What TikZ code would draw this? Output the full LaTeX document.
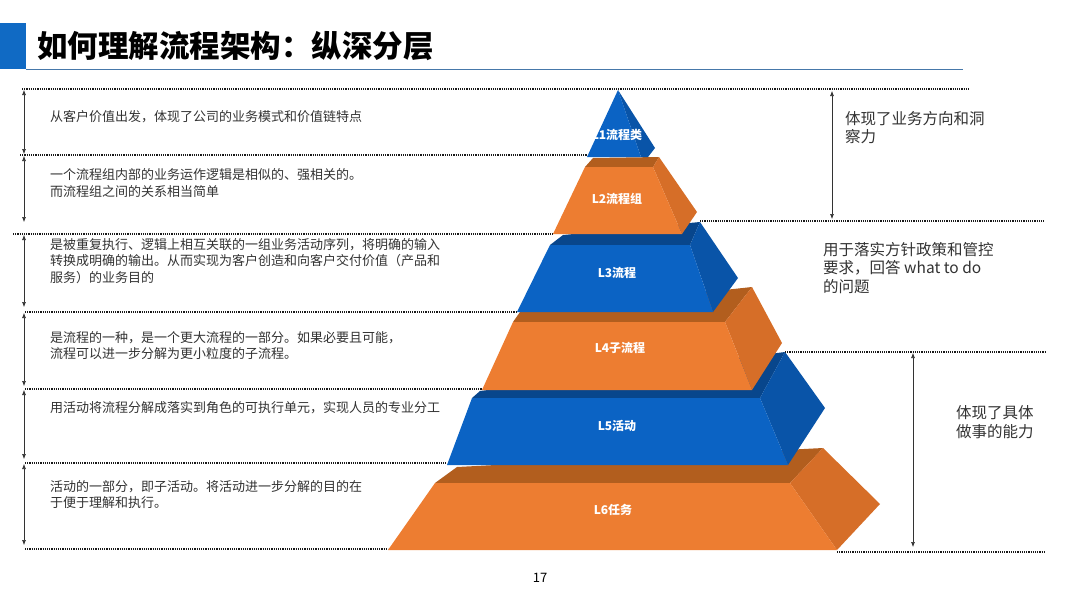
\documentclass[tikz,border=0pt]{standalone}
\usepackage{fontspec}
\setmainfont{Noto Sans CJK SC}
\usetikzlibrary{positioning, arrows.meta}
\definecolor{pyblue}{RGB}{11,99,196}
\definecolor{pybluedk}{RGB}{9,84,168}
\definecolor{pybluetop}{RGB}{8,70,140}
\definecolor{pyorange}{RGB}{237,125,49}
\definecolor{pyorangedk}{RGB}{214,110,40}
\definecolor{pyorangetop}{RGB}{178,94,30}
\definecolor{barblue}{RGB}{16,106,196}
\definecolor{ruleblue}{RGB}{70,120,170}
\definecolor{txtgray}{RGB}{50,50,50}

\begin{document}
\begin{tikzpicture}[x=1pt,y=-1pt,
    guide/.style={line width=1.1pt, dash pattern=on 1.1pt off 1.1pt, black!90},
    dimarrow/.style={{Latex[length=5pt,width=4pt]}-{Latex[length=5pt,width=4pt]}, line width=0.6pt, black!80}]
  \useasboundingbox (0,0) rectangle (1080,608);
  % title bar
  \fill[barblue] (0,23) rectangle (26,69);
  \draw[ruleblue, line width=1.5pt] (26,69.5) -- (963,69.5);
  \node (title) [anchor=west, inner sep=0, font=\bfseries\fontsize{30.5}{30.5}\selectfont] at (37,46) {如何理解流程架构：纵深分层};
  \node (page) [inner sep=0, font=\fontsize{13}{13}\selectfont] at (540,578) {17};

  % pyramid, bottom layer first
  \fill[pyorangetop] (435,483) -- (457,467) -- (823,448) -- (790,483) -- cycle;
  \fill[pyorangedk] (790,483) -- (823,448) -- (880,504) -- (837,550) -- cycle;
  \fill[pyorange] (435,483) -- (790,483) -- (837,550) -- (388,550) -- cycle;
  \fill[pybluetop] (472,398) -- (480,391) -- (785,352) -- (760,398) -- cycle;
  \fill[pybluedk] (760,398) -- (785,352) -- (825,408) -- (788,465) -- cycle;
  \fill[pyblue] (472,398) -- (760,398) -- (788,465) -- (447,465) -- cycle;
  \fill[pyorangetop] (513,322) -- (520,312) -- (752,287) -- (725,322) -- cycle;
  \fill[pyorangedk] (725,322) -- (752,287) -- (782,343) -- (752,390) -- cycle;
  \fill[pyorange] (513,322) -- (725,322) -- (752,390) -- (482,390) -- cycle;
  \fill[pybluetop] (550,245) -- (563,235) -- (700,222) -- (690,245) -- cycle;
  \fill[pybluedk] (690,245) -- (700,222) -- (738,278) -- (713,312) -- cycle;
  \fill[pyblue] (550,245) -- (690,245) -- (713,312) -- (517,312) -- cycle;
  \fill[pyorangetop] (585,167) -- (593,158) -- (659,157) -- (653,167) -- cycle;
  \fill[pyorangedk] (653,167) -- (659,157) -- (697,212) -- (682,234) -- cycle;
  \fill[pyorange] (585,167) -- (653,167) -- (682,234) -- (553,234) -- cycle;
  \fill[pybluedk] (618,90) -- (655,148) -- (648,157) -- (641,157) -- cycle;
  \fill[pyblue] (618,90) -- (641,157) -- (587,157) -- cycle;

  \begin{scope}[every node/.style={inner sep=0, white, font=\bfseries\fontsize{12}{12}\selectfont}]
    \node (l1) at (617,135) {L1流程类};
    \node (l2) at (617,199) {L2流程组};
    \node (l3) at (617,273) {L3流程};
    \node (l4) at (620,348) {L4子流程};
    \node (l5) at (617,426) {L5活动};
    \node (l6) at (613,510) {L6任务};
  \end{scope}

  % dotted guides
  \coordinate (g1a) at (22,89);  \coordinate (g1b) at (970,89);
  \coordinate (g2a) at (20,155); \coordinate (g2b) at (587,155);
  \coordinate (g3a) at (700,221); \coordinate (g3b) at (1045,221);
  \coordinate (g4a) at (13,234); \coordinate (g4b) at (553,234);
  \coordinate (g5a) at (25,312); \coordinate (g5b) at (517,312);
  \coordinate (g6a) at (785,352); \coordinate (g6b) at (1045,352);
  \coordinate (g7a) at (25,389); \coordinate (g7b) at (482,389);
  \coordinate (g8a) at (25,463); \coordinate (g8b) at (447,463);
  \coordinate (g9a) at (25,549); \coordinate (g9b) at (388,549);
  \coordinate (g10a) at (837,552); \coordinate (g10b) at (1045,552);
  \draw[guide] (g1a) -- (g1b);
  \draw[guide] (g2a) -- (g2b);
  \draw[guide] (g3a) -- (g3b);
  \draw[guide] (g4a) -- (g4b);
  \draw[guide] (g5a) -- (g5b);
  \draw[guide] (g6a) -- (g6b);
  \draw[guide] (g7a) -- (g7b);
  \draw[guide] (g8a) -- (g8b);
  \draw[guide] (g9a) -- (g9b);
  \draw[guide] (g10a) -- (g10b);

  % span arrows
  \coordinate (a1t) at (24,90);  \coordinate (a1b) at (24,154);
  \coordinate (a2t) at (24,156); \coordinate (a2b) at (24,222);
  \coordinate (a3t) at (24,235); \coordinate (a3b) at (24,307);
  \coordinate (a4t) at (24,313); \coordinate (a4b) at (24,386);
  \coordinate (a5t) at (24,390); \coordinate (a5b) at (24,459);
  \coordinate (a6t) at (24,464); \coordinate (a6b) at (24,545);
  \coordinate (b1t) at (832,91); \coordinate (b1b) at (832,219);
  \coordinate (b2t) at (913,353); \coordinate (b2b) at (913,547);
  \draw[dimarrow] (a1t) -- (a1b);
  \draw[dimarrow] (a2t) -- (a2b);
  \draw[dimarrow] (a3t) -- (a3b);
  \draw[dimarrow] (a4t) -- (a4b);
  \draw[dimarrow] (a5t) -- (a5b);
  \draw[dimarrow] (a6t) -- (a6b);
  \draw[dimarrow] (b1t) -- (b1b);
  \draw[dimarrow] (b2t) -- (b2b);

  % left descriptions
  \begin{scope}[every node/.style={anchor=west, inner sep=0, align=left, txtgray, font=\fontsize{13}{16.6}\selectfont}]
    \node (t1) at (50,117) {从客户价值出发，体现了公司的业务模式和价值链特点};
    \node (t2) at (50,183) {一个流程组内部的业务运作逻辑是相似的、强相关的。\\而流程组之间的关系相当简单};
    \node (t3) at (50,261) {是被重复执行、逻辑上相互关联的一组业务活动序列，将明确的输入\\转换成明确的输出。从而实现为客户创造和向客户交付价值（产品和\\服务）的业务目的};
    \node (t4) at (50,345.5) {是流程的一种，是一个更大流程的一部分。如果必要且可能，\\流程可以进一步分解为更小粒度的子流程。};
    \node (t5) at (50,408) {用活动将流程分解成落实到角色的可执行单元，实现人员的专业分工};
    \node (t6) at (50,494.5) {活动的一部分，即子活动。将活动进一步分解的目的在\\于便于理解和执行。};
  \end{scope}

  % right notes
  \begin{scope}[every node/.style={anchor=west, inner sep=0, align=left, txtgray, font=\fontsize{15.5}{18.6}\selectfont}]
    \node (r1) at (845,127.5) {体现了业务方向和洞\\察力};
    \node (r2) at (823,268) {用于落实方针政策和管控\\要求，回答 what to do\\的问题};
    \node (r3) at (956,422) {体现了具体\\做事的能力};
  \end{scope}
\end{tikzpicture}
\end{document}
